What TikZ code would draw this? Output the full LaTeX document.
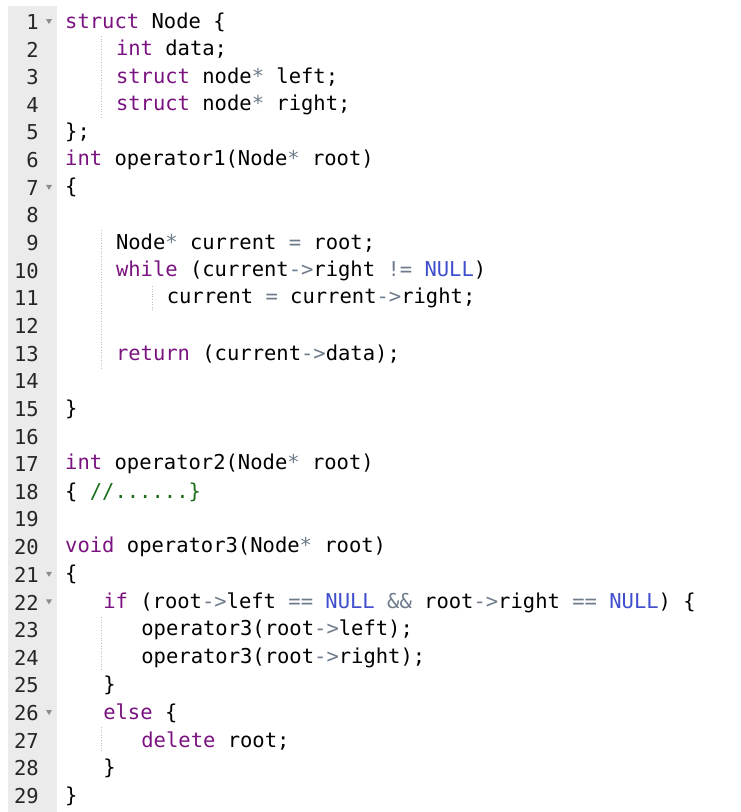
\documentclass[tikz,border=0pt]{standalone}
\usepackage{fontspec}
\newfontfamily\codefont{DejaVu Sans Mono}[Scale=1]
\definecolor{kwc}{HTML}{7A1380}
\definecolor{nlc}{HTML}{3F4FCC}
\definecolor{opc}{HTML}{6E7B8B}
\definecolor{cmc}{HTML}{1A6E1A}
\definecolor{gut}{HTML}{EBEBEB}
\newcommand\kw[1]{\textcolor{kwc}{#1}}
\newcommand\nl[1]{\textcolor{nlc}{#1}}
\newcommand\op[1]{\textcolor{opc}{#1}}
\newcommand\cm[1]{\textcolor{cmc}{#1}}
\tikzset{codeline/.style={anchor=west,inner sep=0pt,font=\codefont\fontsize{20.5}{24}\selectfont,text=black},
 lnum/.style={anchor=east,inner sep=0pt,font=\codefont\fontsize{20.5}{24}\selectfont,text=black!85},
 guide/.style={draw=black!25,dotted,line width=0.6pt},
 foldtri/.style={fill=black!45}}
\begin{document}
\begin{tikzpicture}[x=1pt,y=-1pt]
\useasboundingbox (0,0) rectangle (740,812);
\fill[white] (0,0) rectangle (740,812);
\fill[gut] (8,6) rectangle (57,812);
\foreach \n in {1,...,29}{\node[lnum] (n\n) at (39,{22+(\n-1)*27.64}) {\n};}
\foreach \n in {1,7,21,22,26}{\fill[foldtri] (46,{19+(\n-1)*27.64}) -- (52,{19+(\n-1)*27.64}) -- (49,{24+(\n-1)*27.64}) -- cycle;}
% guides
\draw[guide] (101,36) -- (101,118);
\draw[guide] (101,230) -- (101,368);
\draw[guide] (152,286) -- (152,311);
\draw[guide] (101,617) -- (101,670);
\draw[guide] (101,727) -- (101,753);
\def\X{65}\def\W{12.7}
\newcommand\cl[3]{\node[codeline] (c#1) at ({\X+#2*\W},{22+(#1-1)*27.64}) {#3};}
\cl{1}{0}{\kw{struct} Node \{}
\cl{2}{4}{\kw{int} data;}
\cl{3}{4}{\kw{struct} node\op{*} left;}
\cl{4}{4}{\kw{struct} node\op{*} right;}
\cl{5}{0}{\};}
\cl{6}{0}{\kw{int} operator1(Node\op{*} root)}
\cl{7}{0}{\{}
\cl{9}{4}{Node\op{*} current \op{=} root;}
\cl{10}{4}{\kw{while} (current\op{->}right \op{!=} \nl{NULL})}
\cl{11}{8}{current \op{=} current\op{->}right;}
\cl{13}{4}{\kw{return} (current\op{->}data);}
\cl{15}{0}{\}}
\cl{17}{0}{\kw{int} operator2(Node\op{*} root)}
\cl{18}{0}{\{ \cm{//......\}}}
\cl{20}{0}{\kw{void} operator3(Node\op{*} root)}
\cl{21}{0}{\{}
\cl{22}{3}{\kw{if} (root\op{->}left \op{==} \nl{NULL} \op{\&\&} root\op{->}right \op{==} \nl{NULL}) \{}
\cl{23}{6}{operator3(root\op{->}left);}
\cl{24}{6}{operator3(root\op{->}right);}
\cl{25}{3}{\}}
\cl{26}{3}{\kw{else} \{}
\cl{27}{6}{\kw{delete} root;}
\cl{28}{3}{\}}
\cl{29}{0}{\}}
\end{tikzpicture}
\end{document}
